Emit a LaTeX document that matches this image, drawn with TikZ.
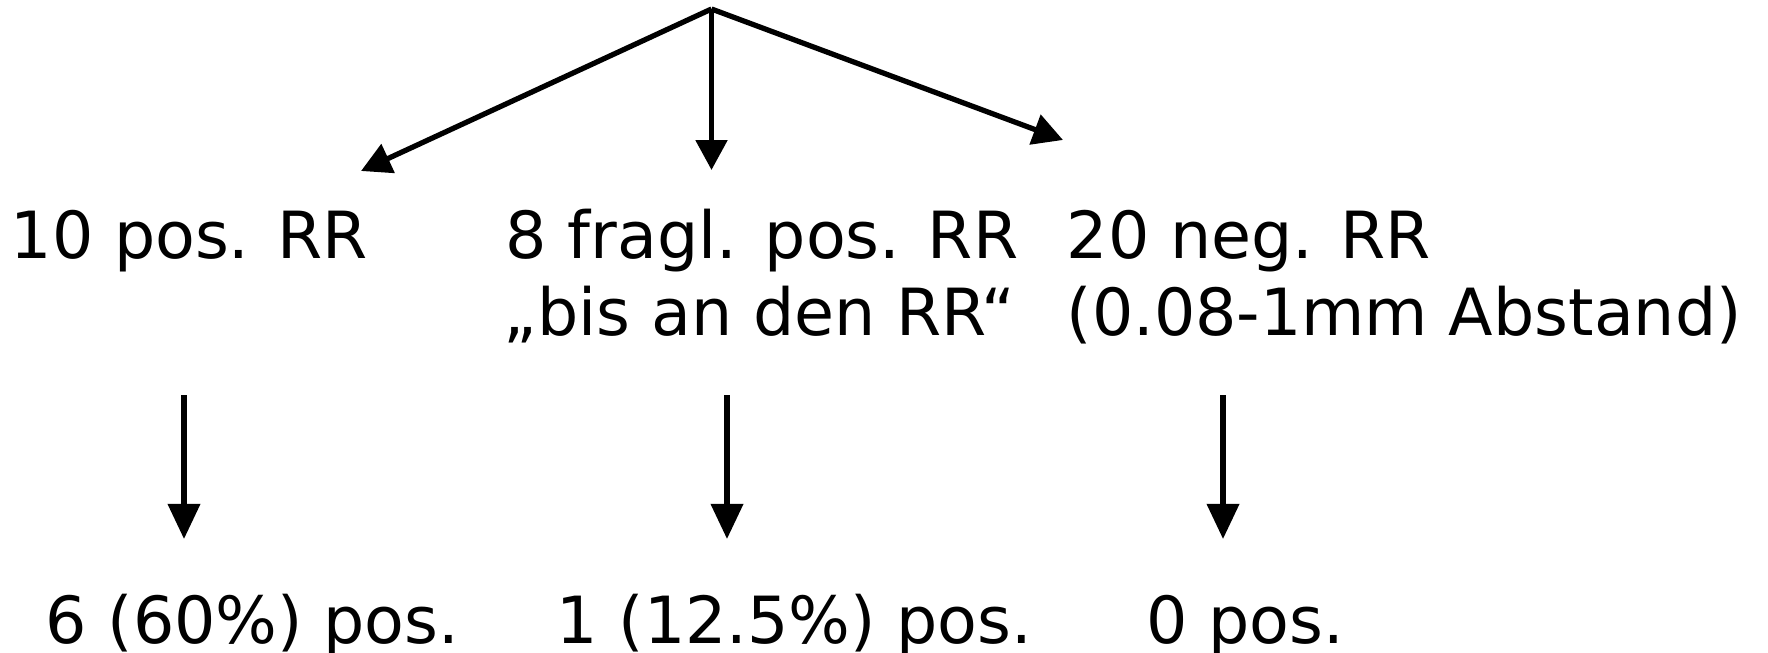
\documentclass[tikz,border=0pt]{standalone}
\usepackage{fontspec}
\setmainfont{DejaVu Sans}
\usetikzlibrary{arrows}
\usetikzlibrary{arrows.meta}

\tikzset{
    lbl/.style={anchor=base west, inner sep=0pt, font=\fontsize{18.5}{21.6}\selectfont},
    toparrow/.style={line width=1.5pt, -{Triangle[length=8.5pt,width=8.8pt]}},
    downarrow/.style={line width=1.5pt, -{Triangle[length=10pt,width=9pt]}}
}

\begin{document}
\begin{tikzpicture}
    \useasboundingbox (0,0) rectangle (17.68,-6.53);

    % apex and arrow ends
    \coordinate (apex) at (7.115,-0.09);
    \coordinate (posend) at (3.61,-1.71);
    \coordinate (fraglend) at (7.115,-1.70);
    \coordinate (negend) at (10.63,-1.40);

    % draw top arrows
    \draw[toparrow] (apex) -- (posend);
    \draw[toparrow] (apex) -- (fraglend);
    \draw[toparrow] (apex) -- (negend);

    % groups
    \node[lbl] (pos) at (0.10,-2.59) {10 pos. RR};
    \node[lbl] (fragl) at (5.05,-2.59) {8 fragl. pos. RR};
    \node[lbl] (fraglb) at (5.03,-3.35) {„bis an den RR“};
    \node[lbl] (neg) at (10.66,-2.59) {20 neg. RR};
    \node[lbl] (negb) at (10.66,-3.35) {(0.08-1mm Abstand)};

    % draw down arrows
    \coordinate (posa) at (1.84,-3.95);
    \coordinate (posb) at (1.84,-5.39);
    \coordinate (fragla) at (7.27,-3.95);
    \coordinate (fraglbb) at (7.27,-5.39);
    \coordinate (nega) at (12.23,-3.95);
    \coordinate (negbb) at (12.23,-5.39);
    \draw[downarrow] (posa) -- (posb);
    \draw[downarrow] (fragla) -- (fraglbb);
    \draw[downarrow] (nega) -- (negbb);

    % results
    \node[lbl] (posres) at (0.45,-6.43) {6 (60\%) pos.};
    \node[lbl] (fraglres) at (5.56,-6.43) {1 (12.5\%) pos.};
    \node[lbl] (negres) at (11.46,-6.43) {0 pos.};

\end{tikzpicture}
\end{document}
